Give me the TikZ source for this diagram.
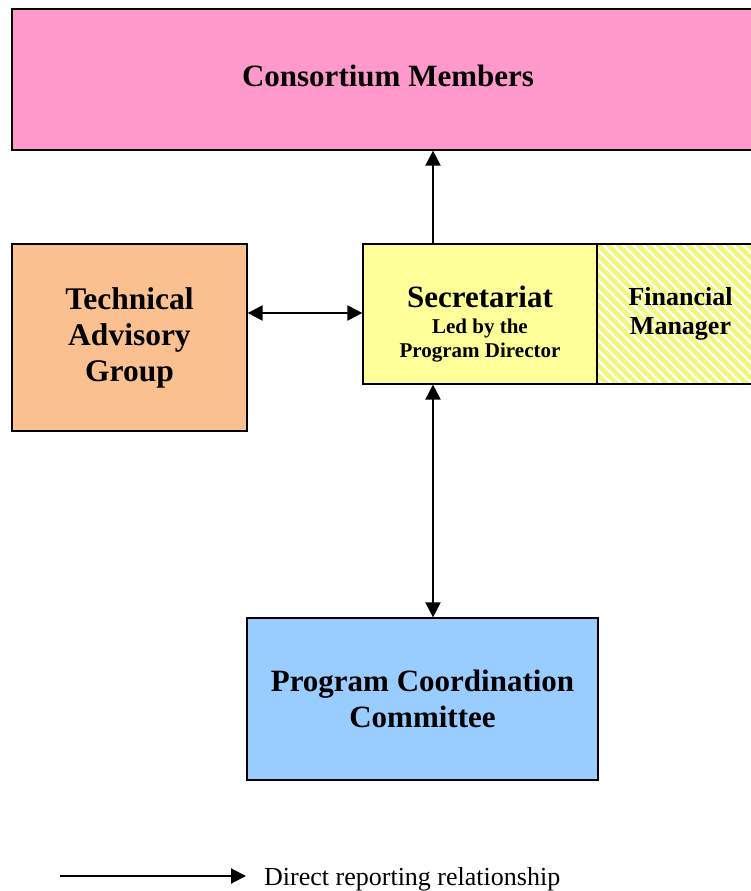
\documentclass[tikz,border=0pt]{standalone}
\usepackage{fontspec}
\setmainfont{Liberation Serif}
\usetikzlibrary{arrows.meta}
\definecolor{cpink}{HTML}{FF99CC}
\definecolor{corange}{HTML}{FAC090}
\definecolor{cyellow}{HTML}{FFFF99}
\definecolor{cblue}{HTML}{99CCFF}
\definecolor{cstripe}{HTML}{F2F77A}
\tikzset{
  box/.style={draw=black, line width=1.2pt, inner sep=0pt, align=center, font=\bfseries},
  link/.style={line width=2pt, -{Triangle[length=15pt,width=15pt]}},
  dlink/.style={line width=2pt, {Triangle[length=15pt,width=15pt]}-{Triangle[length=15pt,width=15pt]}},
}
\begin{document}
\begin{tikzpicture}[x=1pt,y=-1pt]
\useasboundingbox (0,0) rectangle (750,891);
% Consortium Members
\node[box, fill=cpink, minimum width=752pt, minimum height=141pt, font=\bfseries\fontsize{31}{36}\selectfont]
  (cm) at (388,79.5) {\raisebox{8pt}{Consortium Members}};
% Technical Advisory Group
\node[box, fill=corange, minimum width=235pt, minimum height=187pt, font=\bfseries\fontsize{31.5}{36}\selectfont]
  (tag) at (129.5,337.5) {Technical\\Advisory\\Group};
% Secretariat
\node[box, fill=cyellow, minimum width=234pt, minimum height=140pt] (sec) at (480,314) {};
\node[inner sep=0pt, align=center, font=\bfseries\fontsize{21}{23.5}\selectfont]
  (sect) at (480,324) {{\fontsize{31}{31}\selectfont Secretariat}\\[3pt]Led by the\\Program Director};
% Financial Manager (hatched)
\begin{scope}
  \clip (597,244) rectangle (764,384);
  \fill[white] (597,244) rectangle (764,384);
  \foreach \k in {-16,...,18} {
    \draw[cstripe, line width=4.5pt] ({597+\k*10},244) -- ({597+\k*10+300},544);
  }
\end{scope}
\node[box, minimum width=167pt, minimum height=140pt, font=\bfseries\fontsize{26}{29}\selectfont]
  (fm) at (680.5,314) {Financial\\Manager};
% Program Coordination Committee
\node[box, fill=cblue, minimum width=351pt, minimum height=162pt, font=\bfseries\fontsize{31}{36}\selectfont]
  (pcc) at (422.5,699) {Program Coordination\\Committee};
% Connectors
\draw[link] (sec.north -| 433,0) -- (cm.south -| 433,0);
\draw[dlink] (tag.east |- 0,313) -- (sec.west |- 0,313);
\draw[dlink] (sec.south -| 433,0) -- (pcc.north -| 433,0);
% Legend
\coordinate (l1) at (60,876);
\coordinate (l2) at (246,876);
\draw[link] (l1) -- (l2);
\node[anchor=west, inner sep=0pt, font=\fontsize{26}{30}\selectfont] (leg) at (264,879) {Direct reporting relationship};
\end{tikzpicture}
\end{document}
